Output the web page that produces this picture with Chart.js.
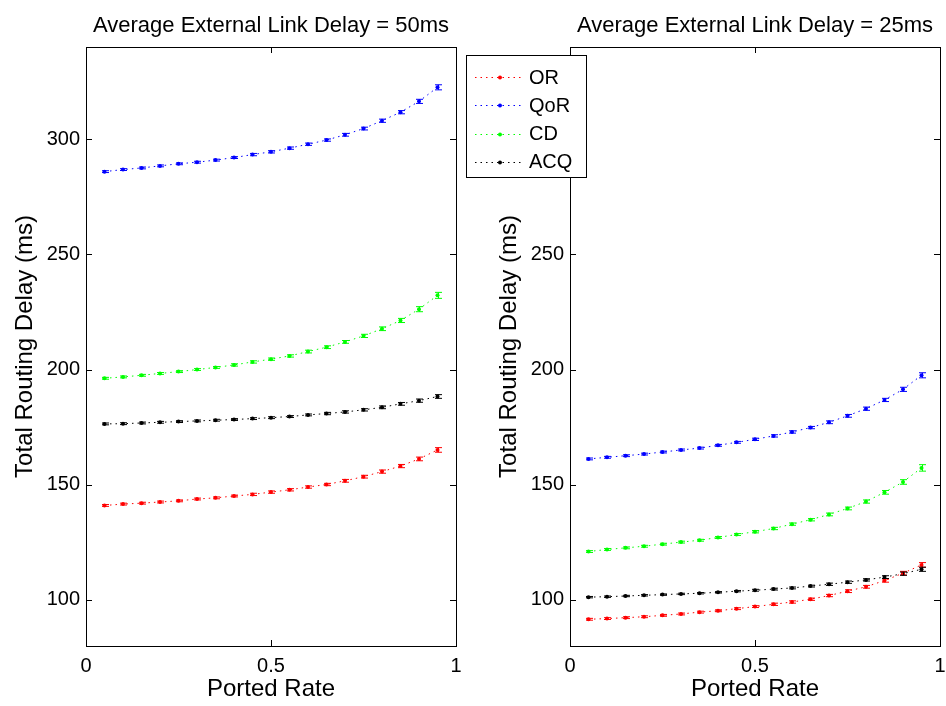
<!DOCTYPE html>
<html>
<head>
<meta charset="utf-8">
<script src="https://cdn.jsdelivr.net/npm/chart.js@4.4.0/dist/chart.umd.min.js"></script>
<style>
  body { margin: 0; background: #fff; }
  #wrap { position: relative; width: 946px; height: 706px; }
  canvas { position: absolute; left: 0; top: 0; }
</style>
</head>
<body>
<div id="wrap">
  <canvas id="left" width="946" height="706"></canvas>
  <canvas id="right" width="946" height="706"></canvas>
</div>
<script>
const portedRate = [0.05, 0.1, 0.15, 0.2, 0.25, 0.3, 0.35, 0.4, 0.45, 0.5, 0.55, 0.6, 0.65, 0.7, 0.75, 0.8, 0.85, 0.9, 0.95];
const seriesNames = ["OR", "QoR", "CD", "ACQ"];
const xTicks = [0, 0.5, 1];
const yTicks = [100, 150, 200, 250, 300];
const panelTitles = ["Average External Link Delay = 50ms", "Average External Link Delay = 25ms"];

// delay 50ms
const or50 = [141.0, 141.6, 142.0, 142.5, 143.0, 143.8, 144.3, 145.1, 145.8, 146.8, 147.8, 149.0, 150.1, 151.7, 153.5, 155.7, 158.1, 161.2, 165.1];
const qor50 = [285.9, 286.8, 287.5, 288.4, 289.3, 290.0, 290.9, 292.0, 293.3, 294.5, 296.1, 297.8, 299.6, 301.9, 304.6, 308.0, 311.7, 316.4, 322.5];
const cd50 = [196.2, 196.8, 197.5, 198.3, 199.1, 200.0, 200.9, 202.0, 203.3, 204.5, 205.9, 207.8, 209.7, 212.0, 214.6, 217.7, 221.3, 226.2, 232.2];
const acq50 = [176.4, 176.5, 176.8, 177.1, 177.4, 177.7, 178.0, 178.3, 178.7, 179.1, 179.6, 180.3, 180.9, 181.6, 182.5, 183.6, 185.1, 186.5, 188.3];
const or50Err = [0.4, 0.4, 0.4, 0.4, 0.4, 0.4, 0.4, 0.4, 0.5, 0.5, 0.5, 0.5, 0.5, 0.6, 0.6, 0.7, 0.7, 0.8, 1.0];
const qor50Err = [0.4, 0.4, 0.4, 0.4, 0.4, 0.4, 0.4, 0.4, 0.5, 0.5, 0.5, 0.5, 0.5, 0.6, 0.6, 0.7, 0.7, 0.9, 1.1];
const cd50Err = [0.4, 0.4, 0.4, 0.4, 0.4, 0.4, 0.4, 0.5, 0.5, 0.5, 0.5, 0.6, 0.6, 0.6, 0.7, 0.8, 0.9, 1.1, 1.3];
const acq50Err = [0.4, 0.4, 0.4, 0.4, 0.4, 0.4, 0.4, 0.4, 0.4, 0.4, 0.4, 0.4, 0.5, 0.5, 0.5, 0.6, 0.6, 0.7, 0.8];

// delay 25ms
const or25 = [91.6, 91.9, 92.3, 92.7, 93.3, 93.9, 94.7, 95.3, 96.2, 97.1, 98.1, 99.1, 100.3, 101.9, 103.8, 105.7, 108.4, 111.6, 115.2];
const qor25 = [161.2, 161.9, 162.6, 163.3, 164.2, 165.1, 165.9, 167.1, 168.4, 169.7, 171.2, 172.9, 174.8, 177.1, 179.9, 183.0, 186.8, 191.4, 197.5];
const cd25 = [121.0, 121.9, 122.6, 123.3, 124.2, 125.1, 125.9, 127.1, 128.4, 129.6, 131.0, 132.9, 134.8, 137.1, 139.7, 142.7, 146.7, 151.2, 157.3];
const acq25 = [101.2, 101.4, 101.7, 102.0, 102.3, 102.6, 102.9, 103.3, 103.8, 104.2, 104.7, 105.2, 106.0, 106.8, 107.7, 108.7, 109.9, 111.4, 113.3];
const or25Err = [0.4, 0.4, 0.4, 0.4, 0.4, 0.4, 0.4, 0.4, 0.4, 0.4, 0.5, 0.5, 0.5, 0.5, 0.6, 0.6, 0.7, 0.8, 1.0];
const qor25Err = [0.4, 0.4, 0.4, 0.4, 0.4, 0.4, 0.4, 0.4, 0.4, 0.5, 0.5, 0.5, 0.5, 0.6, 0.6, 0.7, 0.7, 0.9, 1.1];
const cd25Err = [0.4, 0.4, 0.4, 0.4, 0.4, 0.4, 0.4, 0.4, 0.4, 0.5, 0.5, 0.5, 0.5, 0.6, 0.6, 0.7, 0.8, 1.0, 1.4];
const acq25Err = [0.3, 0.3, 0.3, 0.3, 0.3, 0.3, 0.3, 0.3, 0.3, 0.4, 0.4, 0.4, 0.4, 0.5, 0.5, 0.5, 0.6, 0.7, 0.9];

const colors = ["#ff0000", "#0000ff", "#00ff00", "#000000"];
const FONT = "'Liberation Sans', Arial, Helvetica, sans-serif";
Chart.defaults.font.family = FONT;
Chart.defaults.color = "#000";

const toPoints = (ys) => ys.map((y, i) => ({ x: portedRate[i], y: y }));

const makeDatasets = (valsArr, errArr) =>
  valsArr.map((vals, i) => ({
    label: seriesNames[i],
    data: toPoints(vals),
    errors: errArr[i],
    borderColor: colors[i],
    backgroundColor: colors[i],
    borderWidth: 1,
    borderDash: [1.5, 4],
    pointRadius: 2,
    pointBorderWidth: 0,
    pointBackgroundColor: colors[i],
    tension: 0,
  }));

const errorBars = {
  id: "errorBars",
  afterDatasetsDraw(chart) {
    const ctx = chart.ctx;
    const yScale = chart.scales.y;
    ctx.save();
    ctx.lineWidth = 1;
    chart.data.datasets.forEach((ds, i) => {
      const meta = chart.getDatasetMeta(i);
      ctx.strokeStyle = ds.borderColor;
      meta.data.forEach((pt, j) => {
        const v = ds.data[j].y;
        const e = ds.errors[j];
        const top = yScale.getPixelForValue(v + e);
        const bot = yScale.getPixelForValue(v - e);
        const x = Math.round(pt.x) + 0.5;
        ctx.beginPath();
        ctx.moveTo(x, top);
        ctx.lineTo(x, bot);
        ctx.moveTo(x - 3.5, top);
        ctx.lineTo(x + 3.5, top);
        ctx.moveTo(x - 3.5, bot);
        ctx.lineTo(x + 3.5, bot);
        ctx.stroke();
      });
    });
    ctx.restore();
  },
};

const frameAndTitle = {
  id: "frameAndTitle",
  afterDraw(chart, args, opts) {
    const { ctx, chartArea: a, scales } = chart;
    ctx.save();
    ctx.strokeStyle = "#000";
    ctx.lineWidth = 1;
    ctx.strokeRect(a.left + 0.5, a.top + 0.5, a.right - a.left, a.bottom - a.top);
    ctx.beginPath();
    yTicks.forEach((v) => {
      const y = Math.round(scales.y.getPixelForValue(v)) + 0.5;
      ctx.moveTo(a.left, y);
      ctx.lineTo(a.left + 6, y);
      ctx.moveTo(a.right, y);
      ctx.lineTo(a.right - 6, y);
    });
    xTicks.forEach((v) => {
      const x = Math.round(scales.x.getPixelForValue(v)) + 0.5;
      ctx.moveTo(x, a.top);
      ctx.lineTo(x, a.top + 6);
      ctx.moveTo(x, a.bottom);
      ctx.lineTo(x, a.bottom - 6);
    });
    ctx.stroke();
    ctx.fillStyle = "#000";
    ctx.font = "22px " + FONT;
    ctx.textAlign = "center";
    ctx.textBaseline = "alphabetic";
    ctx.fillText(opts.text, (a.left + a.right) / 2, 32);
    ctx.restore();
  },
};

const boxLegend = {
  id: "boxLegend",
  afterDraw(chart, args, opts) {
    if (!opts.show) return;
    const ctx = chart.ctx;
    ctx.save();
    ctx.fillStyle = "#fff";
    ctx.fillRect(466, 55, 121, 123);
    ctx.strokeStyle = "#000";
    ctx.lineWidth = 1;
    ctx.strokeRect(466.5, 55.5, 120, 122);
    ctx.font = "20px " + FONT;
    ctx.textAlign = "left";
    ctx.textBaseline = "middle";
    seriesNames.forEach((name, i) => {
      const y = 77 + i * 28.3;
      ctx.strokeStyle = colors[i];
      ctx.setLineDash([1.5, 4]);
      ctx.beginPath();
      ctx.moveTo(475, Math.round(y) + 0.5);
      ctx.lineTo(522, Math.round(y) + 0.5);
      ctx.stroke();
      ctx.setLineDash([]);
      ctx.fillStyle = colors[i];
      ctx.beginPath();
      ctx.arc(500, Math.round(y) + 0.5, 2, 0, Math.PI * 2);
      ctx.fill();
      ctx.fillStyle = "#000";
      ctx.fillText(name, 529, y + 1);
    });
    ctx.restore();
  },
};

const makePanel = (canvasId, title, datasets, padLeft, padRight, showLegend) =>
  new Chart(document.getElementById(canvasId).getContext("2d"), {
    type: "line",
    data: { datasets: datasets },
    options: {
      responsive: false,
      animation: false,
      layout: { padding: { left: padLeft, right: padRight, top: 47, bottom: 0 } },
      scales: {
        x: {
          type: "linear",
          min: 0,
          max: 1,
          afterBuildTicks: (s) => { s.ticks = xTicks.map((v) => ({ value: v })); },
          afterFit: (s) => {
            s.height = 60;
            s.paddingLeft = 0;
            s.paddingRight = 0;
          },
          grid: { display: false, drawTicks: false },
          border: { display: false },
          ticks: { padding: 8, font: { size: 20 }, maxRotation: 0, callback: (v) => String(v) },
          title: { display: true, text: "Ported Rate", font: { size: 24 }, padding: { top: 0, bottom: 2 } },
        },
        y: {
          type: "linear",
          min: 80,
          max: 340,
          afterBuildTicks: (s) => { s.ticks = yTicks.map((v) => ({ value: v })); },
          afterFit: (s) => { s.width = 86; },
          grid: { display: false, drawTicks: false },
          border: { display: false },
          ticks: { padding: 6, font: { size: 20 } },
          title: { display: true, text: "Total Routing Delay (ms)", font: { size: 24 }, padding: { top: 11, bottom: 0 } },
        },
      },
      plugins: {
        legend: { display: false },
        tooltip: { enabled: false },
        frameAndTitle: { text: title },
        boxLegend: { show: showLegend },
      },
    },
    plugins: [errorBars, frameAndTitle, boxLegend],
  });

makePanel("left", panelTitles[0],
  makeDatasets([or50, qor50, cd50, acq50], [or50Err, qor50Err, cd50Err, acq50Err]), 0, 490, false);
makePanel("right", panelTitles[1],
  makeDatasets([or25, qor25, cd25, acq25], [or25Err, qor25Err, cd25Err, acq25Err]), 484, 6, true);
</script>
</body>
</html>
